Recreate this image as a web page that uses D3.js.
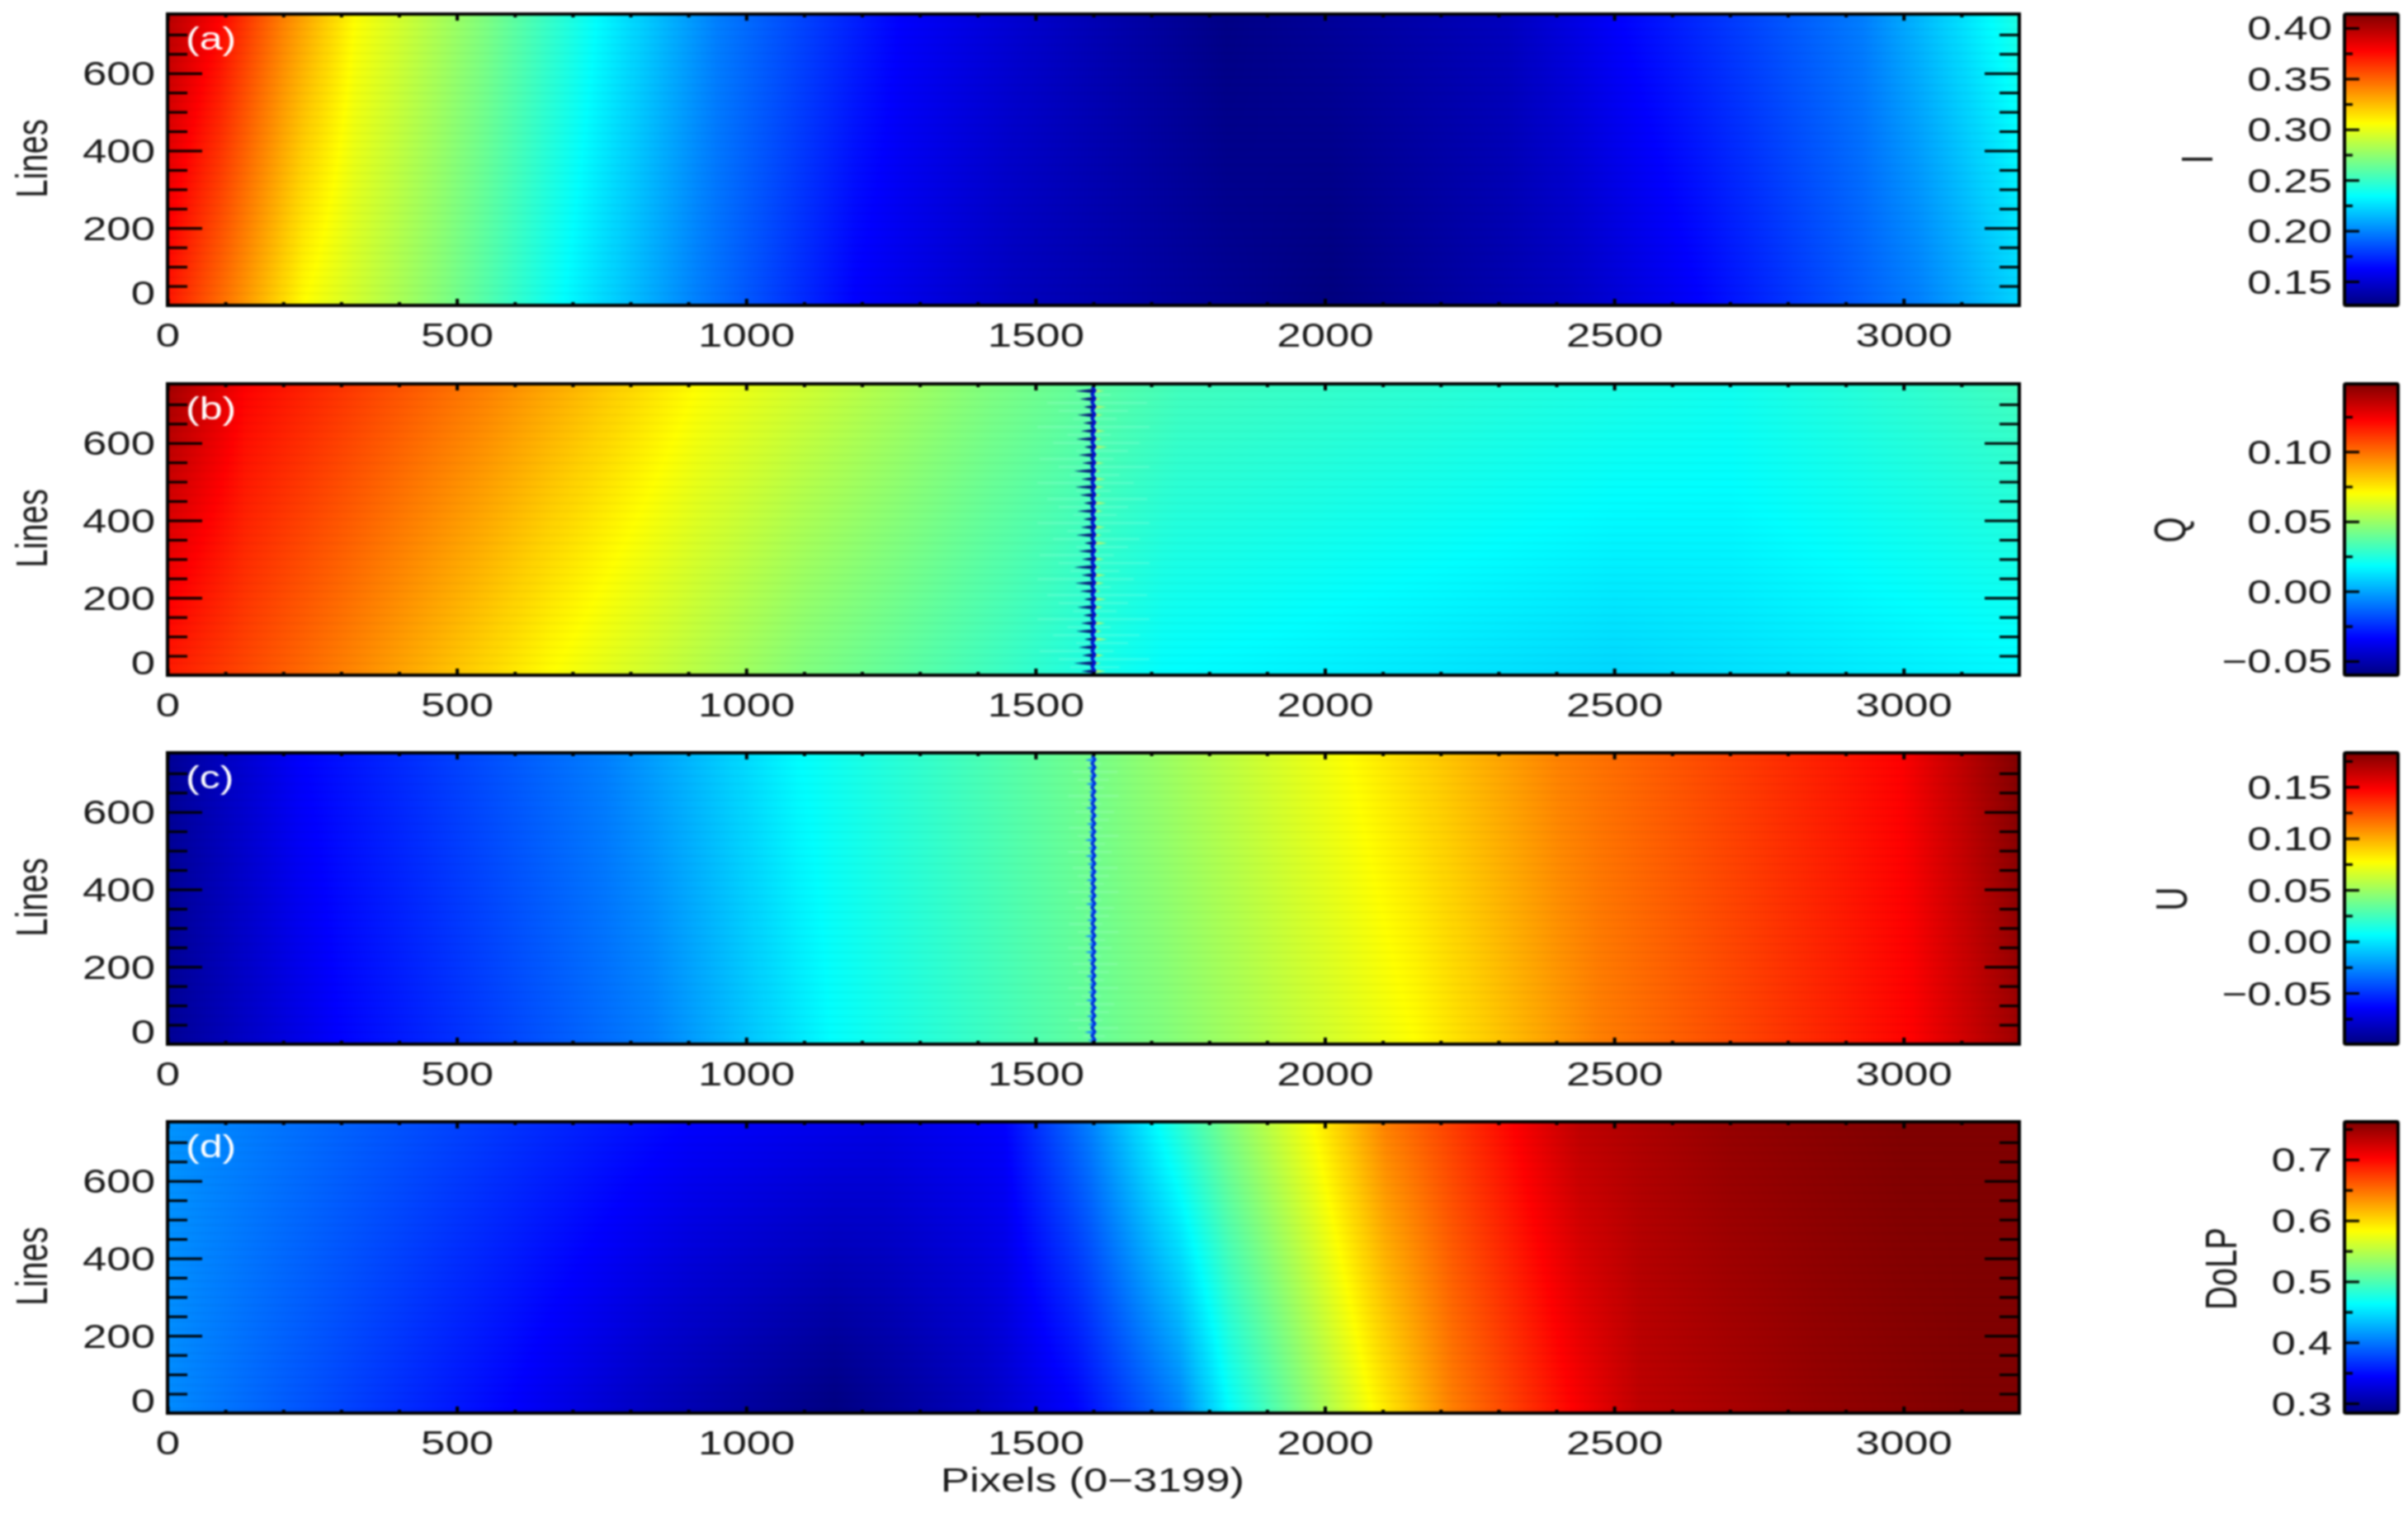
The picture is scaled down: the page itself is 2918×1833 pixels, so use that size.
<!DOCTYPE html>
<html>
<head>
<meta charset="utf-8">
<script src="https://cdn.jsdelivr.net/npm/d3@7"></script>
<style>
    html, body { margin: 0; padding: 0; background: #fff; }
    text { font-family: "Liberation Sans", Arial, sans-serif; fill: #1a1a1a; }
    svg { filter: blur(0.8px); }
</style>
</head>
<body>
<div id="chart"></div>
<script>
// Jet colour table used by all four images
var jetStops = [0, 0.125, 0.375, 0.625, 0.875, 1];
var jetColors = ["#000080", "#0000ff", "#00ffff", "#ffff00", "#ff0000", "#800000"];

// Axis ticks shared by the panels
var xMajor = [0, 500, 1000, 1500, 2000, 2500, 3000];
var xMinor = [100, 200, 300, 400, 600, 700, 800, 900, 1100, 1200, 1300, 1400, 1600, 1700, 1800, 1900,
    2100, 2200, 2300, 2400, 2600, 2700, 2800, 2900, 3100];
var yMajor = [0, 200, 400, 600];
var yMinor = [50, 100, 150, 250, 300, 350, 450, 500, 550, 650, 700];

// Panel (a) I, profile along the top and bottom line of the image
var iTopPixels = [0, 90, 200, 324, 549, 744, 951, 1270, 1555, 1830, 2317, 2503, 2930, 3147, 3200];
var iTopValues = [0.399, 0.378, 0.342, 0.306, 0.270, 0.234, 0.198, 0.162, 0.144, 0.128, 0.144, 0.162, 0.198, 0.234, 0.243];
var iBottomPixels = [0, 111, 235, 478, 685, 916, 1188, 1460, 2010, 2416, 2645, 3026, 3200];
var iBottomValues = [0.372, 0.342, 0.306, 0.270, 0.234, 0.198, 0.162, 0.144, 0.126, 0.144, 0.162, 0.198, 0.222];
var iRange = [0.1264, 0.4138];
var iTicks = [0.15, 0.20, 0.25, 0.30, 0.35, 0.40];
var iMinor = [0.175, 0.225, 0.275, 0.325, 0.375];

// Panel (b) Q
var qTopPixels = [0, 135, 549, 916, 1423, 1750, 2700, 3200];
var qTopValues = [0.142, 0.1225, 0.0964, 0.0703, 0.0442, 0.0317, 0.0215, 0.0317];
var qBottomPixels = [0, 301, 662, 1105, 1720, 2500, 3200];
var qBottomValues = [0.117, 0.0964, 0.0703, 0.0442, 0.0182, 0.0100, 0.0170];
var qRange = [-0.0601, 0.1486];
var qTicks = [-0.05, 0, 0.05, 0.10];
var qMinor = [-0.025, 0.025, 0.075, 0.125];

// Panel (c) U
var uTopPixels = [0, 232, 756, 1090, 1634, 2042, 2408, 2994, 3200];
var uTopValues = [-0.094, -0.0643, -0.0290, 0.0064, 0.0417, 0.0770, 0.1124, 0.1477, 0.183];
var uBottomPixels = [0, 295, 839, 1145, 1718, 2157, 2471, 3015, 3200];
var uBottomValues = [-0.094, -0.0643, -0.0290, 0.0064, 0.0417, 0.0770, 0.1124, 0.1477, 0.175];
var uRange = [-0.0996, 0.183];
var uTicks = [-0.05, 0, 0.05, 0.10, 0.15];
var uMinor = [-0.075, -0.025, 0.025, 0.075, 0.125, 0.175];

// Panel (d) DoLP
var dTopPixels = [0, 902, 1237, 1446, 1592, 1707, 1833, 1979, 2105, 2325, 2440, 2700, 3000, 3200];
var dTopValues = [0.413, 0.344, 0.332, 0.344, 0.4035, 0.463, 0.523, 0.583, 0.6425, 0.702, 0.733, 0.752, 0.762, 0.762];
var dBottomPixels = [0, 588, 839, 1153, 1404, 1571, 1749, 1835, 1958, 2084, 2220, 2429, 2544, 2847, 3120, 3200];
var dBottomValues = [0.409, 0.344, 0.3127, 0.284, 0.3127, 0.344, 0.4035, 0.463, 0.523, 0.583, 0.6425, 0.702, 0.733, 0.752, 0.762, 0.762];
var dRange = [0.284, 0.762];
var dTicks = [0.3, 0.4, 0.5, 0.6, 0.7];
var dMinor = [0.35, 0.45, 0.55, 0.65, 0.75];

// Seam at pixel 1600: wedge lengths in pixels, read line by line and repeated
var seamLeft = [21, 34, 20, 26, 16, 30, 22, 18, 28, 17, 24, 32];
var seamRight = [21, 12, 18, 10, 24, 14, 20, 10, 16, 22, 12, 18];
var seamFaint = [97, 40, 60, 93, 30, 70, 45, 97, 35, 60, 80, 30];

var panelNames = ["(a)", "(b)", "(c)", "(d)"];
var cbarNames = ["I", "Q", "U", "DoLP"];

// Set up the page
var svgWidth = 2918;
var svgHeight = 1833;
var stretch = 1.32;  // the picture is wider than it is tall, text too

var frame = { left: 203, right: 2447, height: 353 };
var cbar = { left: 2841, right: 2906 };

var panels = [
    { top: 17, name: panelNames[0], label: cbarNames[0], labelX: 2681, labelY: 193, range: iRange, ticks: iTicks, minor: iMinor,
      topPx: iTopPixels, topV: iTopValues, botPx: iBottomPixels, botV: iBottomValues, fmt: ".2f" },
    { top: 465, name: panelNames[1], label: cbarNames[1], labelX: 2648, labelY: 642, range: qRange, ticks: qTicks, minor: qMinor,
      topPx: qTopPixels, topV: qTopValues, botPx: qBottomPixels, botV: qBottomValues, fmt: ".2f",
      seam: { dark: "#0a1478", light: "#b8f070", ink: "#0010d0", scale: 1 } },
    { top: 912, name: panelNames[2], label: cbarNames[2], labelX: 2650, labelY: 1089, range: uRange, ticks: uTicks, minor: uMinor,
      topPx: uTopPixels, topV: uTopValues, botPx: uBottomPixels, botV: uBottomValues, fmt: ".2f",
      seam: { dark: "#2090ff", light: "#70f0e0", ink: "#0030e0", scale: 0.45 } },
    { top: 1359, name: panelNames[3], label: cbarNames[3], labelX: 2710, labelY: 1537, range: dRange, ticks: dTicks, minor: dMinor,
      topPx: dTopPixels, topV: dTopValues, botPx: dBottomPixels, botV: dBottomValues, fmt: ".1f" }
];

var svg = d3.select("#chart")
    .append("svg")
    .attr("width", svgWidth)
    .attr("height", svgHeight)
    .style("display", "block");

var defs = svg.append("defs");

// Colour table lookup
var jet = d3.scaleLinear().domain(jetStops).range(jetColors).clamp(true);
var jetLut = d3.range(1024).map(function(i) { return d3.rgb(jet(i / 1023)); });

var xScale = d3.scaleLinear().domain([0, 3200]).range([frame.left, frame.right]);

// Draw one image: the two read profiles are blended from the bottom line to the top line
function drawField(p, y) {
    var w = frame.right - frame.left;
    var h = frame.height;
    var canvas = document.createElement("canvas");
    canvas.width = w;
    canvas.height = h;
    var ctx = canvas.getContext("2d");
    var img = ctx.createImageData(w, h);

    var topRow = d3.scaleLinear().domain(p.topPx).range(p.topV).clamp(true);
    var botRow = d3.scaleLinear().domain(p.botPx).range(p.botV).clamp(true);
    var norm = d3.scaleLinear().domain(p.range).range([0, 1023]).clamp(true);
    var lineMix = d3.scaleLinear().domain([y.range()[0], y.range()[1]]).range([0, 1]);

    var tops = new Float64Array(w);
    var bots = new Float64Array(w);
    for (var c = 0; c < w; c++) {
        var px = xScale.invert(frame.left + c + 0.5);
        tops[c] = topRow(px);
        bots[c] = botRow(px);
    }
    for (var r = 0; r < h; r++) {
        var a = lineMix(p.top + r + 0.5);
        for (var k = 0; k < w; k++) {
            var col = jetLut[Math.round(norm(bots[k] * (1 - a) + tops[k] * a))];
            var o = (r * w + k) * 4;
            img.data[o] = col.r;
            img.data[o + 1] = col.g;
            img.data[o + 2] = col.b;
            img.data[o + 3] = 255;
        }
    }
    ctx.putImageData(img, 0, 0);

    svg.append("image")
        .attr("x", frame.left)
        .attr("y", p.top)
        .attr("width", w)
        .attr("height", h)
        .attr("preserveAspectRatio", "none")
        .attr("href", canvas.toDataURL());

    // faint striping between the scan lines
    svg.append("g").selectAll("line")
        .data(d3.range(10, 750, 20.7))
        .enter()
        .append("line")
        .attr("x1", frame.left)
        .attr("x2", frame.right)
        .attr("y1", function(d) { return y(d); })
        .attr("y2", function(d) { return y(d); })
        .attr("stroke", "#000")
        .attr("stroke-opacity", 0.025)
        .attr("stroke-width", 3);
}

// The seam in the middle of Q and U
function drawSeam(p, y) {
    var s = p.seam;
    var lines = d3.range(10, 750, 20.7);
    var g = svg.append("g");
    var halfH = 2.6;

    function wedge(len, d, dir) {
        var x0 = xScale(1600);
        var x1 = xScale(1600 + dir * len * s.scale);
        var yc = y(d);
        return "M" + x0 + "," + (yc - halfH) + "L" + x1 + "," + yc + "L" + x0 + "," + (yc + halfH) + "Z";
    }

    g.selectAll("rect.faint")
        .data(lines)
        .enter()
        .append("rect")
        .attr("class", "faint")
        .attr("x", function(d, i) { return xScale(1600 - seamFaint[i % 12] * s.scale); })
        .attr("width", function(d, i) { return xScale(seamFaint[i % 12] * s.scale) + xScale(seamFaint[(i + 5) % 12] * s.scale) - 2 * xScale(0); })
        .attr("y", function(d) { return y(d) + 3.5; })
        .attr("height", 2.4)
        .attr("fill", "#b8f8e0")
        .attr("fill-opacity", 0.22);

    g.selectAll("path.left")
        .data(lines)
        .enter()
        .append("path")
        .attr("class", "left")
        .attr("d", function(d, i) { return wedge(seamLeft[i % 12], d, -1); })
        .attr("fill", s.dark);

    g.selectAll("path.right")
        .data(lines)
        .enter()
        .append("path")
        .attr("class", "right")
        .attr("d", function(d, i) { return wedge(seamRight[i % 12], d, 1); })
        .attr("fill", s.light);

    var zig = d3.line()
        .x(function(d, i) { return xScale(1600 + (i % 2 ? 2.5 : -2.5)); })
        .y(function(d) { return y(d); });

    g.append("path")
        .attr("d", zig(d3.range(1, 752, 10.35)))
        .attr("fill", "none")
        .attr("stroke", s.ink)
        .attr("stroke-width", 3.6);
}

// Stretch tick label text the same way as the picture
function stretchLabels(sel, xOffset, yOffset) {
    sel.selectAll("text")
        .attr("font-size", 40)
        .attr("x", xOffset / stretch)
        .attr("y", yOffset)
        .attr("dy", null)
        .attr("transform", "scale(" + stretch + ",1)");
}

// Ticks and box of one image
function drawAxes(p, y) {
    var bottom = p.top + frame.height;

    svg.append("g")
        .attr("transform", "translate(0," + bottom + ")")
        .call(d3.axisBottom(xScale).tickValues(xMinor).tickSize(-4).tickFormat(""))
        .call(styleAxis, 4);
    svg.append("g")
        .attr("transform", "translate(0," + bottom + ")")
        .call(d3.axisBottom(xScale).tickValues(xMajor).tickSize(-8).tickFormat(d3.format("d")))
        .call(styleAxis, 4)
        .call(stretchLabels, 0, 50);

    svg.append("g")
        .attr("transform", "translate(0," + p.top + ")")
        .call(d3.axisTop(xScale).tickValues(xMinor).tickSize(-4).tickFormat(""))
        .call(styleAxis, 4);
    svg.append("g")
        .attr("transform", "translate(0," + p.top + ")")
        .call(d3.axisTop(xScale).tickValues(xMajor).tickSize(-8).tickFormat(""))
        .call(styleAxis, 4);

    svg.append("g")
        .attr("transform", "translate(" + frame.left + ",0)")
        .call(d3.axisLeft(y).tickValues(yMinor).tickSize(-24).tickFormat(""))
        .call(styleAxis, 3);
    svg.append("g")
        .attr("transform", "translate(" + frame.left + ",0)")
        .call(d3.axisLeft(y).tickValues(yMajor).tickSize(-42).tickFormat(d3.format("d")))
        .call(styleAxis, 3)
        .call(function(sel) {
            stretchLabels(sel, -15, 14);
            // the 0 label sits above the bottom corner
            sel.selectAll("text")
                .attr("text-anchor", "end")
                .attr("y", function(d) { return d === 0 ? -2 : 14; });
        });

    svg.append("g")
        .attr("transform", "translate(" + frame.right + ",0)")
        .call(d3.axisRight(y).tickValues(yMinor).tickSize(-24).tickFormat(""))
        .call(styleAxis, 3);
    svg.append("g")
        .attr("transform", "translate(" + frame.right + ",0)")
        .call(d3.axisRight(y).tickValues(yMajor).tickSize(-42).tickFormat(""))
        .call(styleAxis, 3);

    svg.append("rect")
        .attr("x", frame.left)
        .attr("y", p.top)
        .attr("width", frame.right - frame.left)
        .attr("height", frame.height)
        .attr("fill", "none")
        .attr("stroke", "#000")
        .attr("stroke-width", 4);

    // panel letter
    svg.append("text")
        .attr("transform", "translate(225," + (p.top + 43) + ") scale(" + stretch + ",1)")
        .attr("font-size", 38)
        .style("fill", "#fff")
        .text(p.name);

    // Lines label
    svg.append("text")
        .attr("transform", "translate(57," + (p.top + 175) + ") scale(" + stretch + ",1) rotate(-90)")
        .attr("text-anchor", "middle")
        .attr("font-size", 40)
        .text("Lines");
}

function styleAxis(sel, width) {
    sel.select(".domain").remove();
    sel.selectAll("line")
        .attr("stroke", "#000")
        .attr("stroke-width", width);
    sel.attr("font-family", null);
}

// Colour bar to the right of an image
function drawColorbar(p, i) {
    var bottom = p.top + frame.height;
    var c = d3.scaleLinear().domain(p.range).range([bottom, p.top]);

    var grad = defs.append("linearGradient")
        .attr("id", "bar" + i)
        .attr("x1", 0).attr("x2", 0).attr("y1", 1).attr("y2", 0);
    grad.selectAll("stop")
        .data(jetStops)
        .enter()
        .append("stop")
        .attr("offset", function(d) { return d; })
        .attr("stop-color", function(d, k) { return jetColors[k]; });

    svg.append("rect")
        .attr("x", cbar.left)
        .attr("y", p.top)
        .attr("width", cbar.right - cbar.left)
        .attr("height", frame.height)
        .attr("rx", 2)
        .attr("fill", "url(#bar" + i + ")")
        .attr("stroke", "#000")
        .attr("stroke-width", 4);

    svg.append("g")
        .attr("transform", "translate(" + cbar.left + ",0)")
        .call(d3.axisLeft(c).tickValues(p.minor).tickSize(-10).tickFormat(""))
        .call(styleAxis, 3);
    svg.append("g")
        .attr("transform", "translate(" + cbar.left + ",0)")
        .call(d3.axisLeft(c).tickValues(p.ticks).tickSize(-18).tickFormat(d3.format(p.fmt)))
        .call(styleAxis, 3)
        .call(function(sel) {
            stretchLabels(sel, -15, 14);
            sel.selectAll("text").attr("text-anchor", "end");
        });

    svg.append("text")
        .attr("transform", "translate(" + p.labelX + "," + p.labelY + ") scale(" + stretch + ",1) rotate(-90)")
        .attr("text-anchor", "middle")
        .attr("font-size", 40)
        .text(p.label);
}

panels.forEach(function(p, i) {
    var y = d3.scaleLinear().domain([0, 753]).range([p.top + frame.height, p.top]);
    drawField(p, y);
    if (p.seam) {
        drawSeam(p, y);
    }
    drawAxes(p, y);
    drawColorbar(p, i);
});

// Bottom axis title
svg.append("text")
    .attr("transform", "translate(1324,1807) scale(" + stretch + ",1)")
    .attr("text-anchor", "middle")
    .attr("font-size", 40)
    .text("Pixels (0\u22123199)");
</script>
</body>
</html>
